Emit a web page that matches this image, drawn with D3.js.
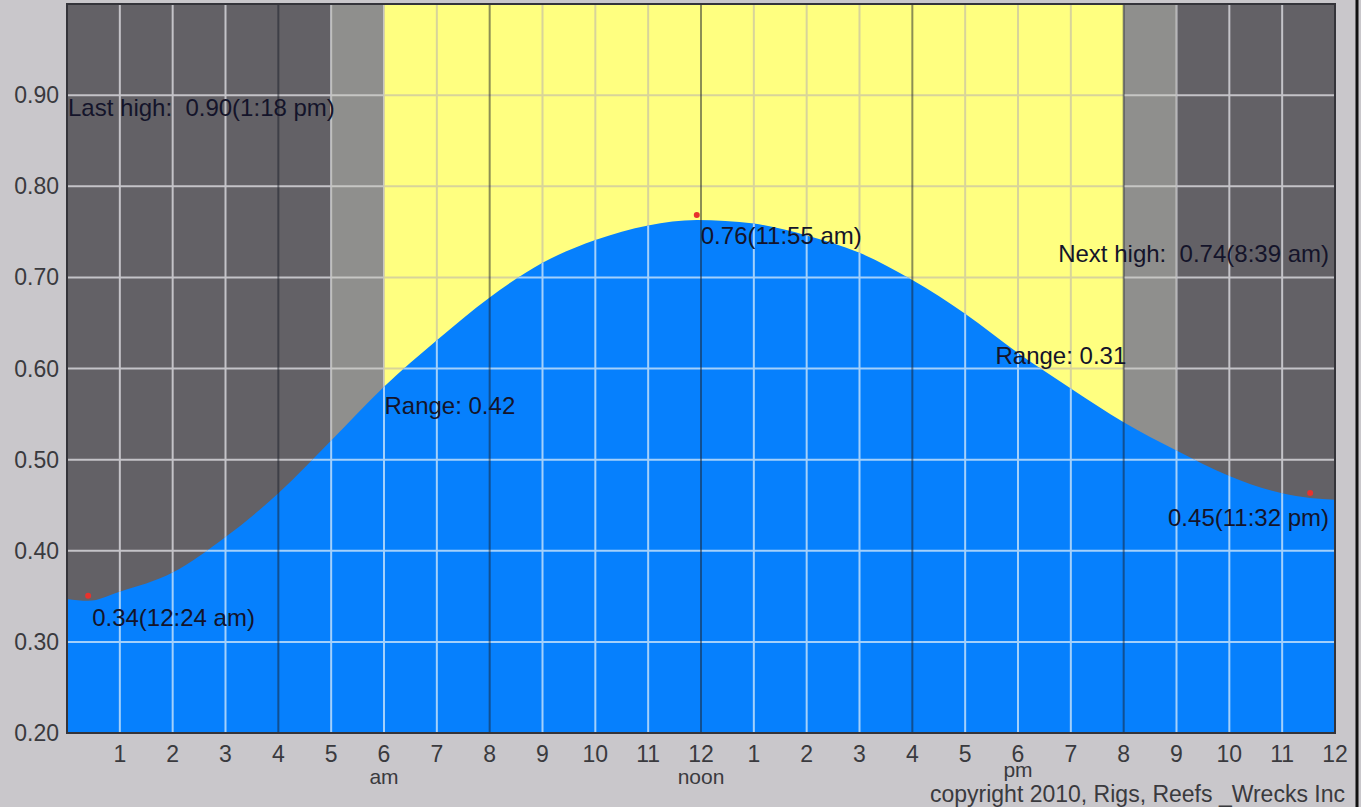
<!DOCTYPE html>
<html>
<head>
<meta charset="utf-8">
<script src="https://cdn.jsdelivr.net/npm/d3@7"></script>
<style>
  html, body { margin: 0; padding: 0; background: #c9c7cb; overflow: hidden; }
  svg { display: block; }
  text { font-family: "Liberation Sans", Arial, sans-serif; white-space: pre; }
</style>
</head>
<body>
<div id="tideChart"></div>
<script>
"use strict";

// tide level, hour 0 = midnight
const tideHours = [0, 0.4, 1, 2, 3, 4, 5, 6, 7, 8, 9, 10, 11, 11.92, 13, 14, 15, 16, 17, 18, 19, 20, 21, 22, 23, 23.53, 24];
const tideLevels = [0.347, 0.345, 0.355, 0.376, 0.415, 0.463, 0.521, 0.58, 0.631, 0.678, 0.716, 0.741, 0.757, 0.763, 0.759, 0.746, 0.727, 0.697, 0.66, 0.617, 0.578, 0.541, 0.51, 0.482, 0.463, 0.458, 0.456];

// lows / highs of the day
const extremeHours = [0.4, 11.92, 23.53];
const extremeLevels = [0.34, 0.76, 0.45];
const extremeLabels = ["0.34(12:24 am)", "0.76(11:55 am)", "0.45(11:32 pm)"];
const rangeLabels = ["Range: 0.42", "Range: 0.31"];

// highs outside the day
const otherHighLevels = [0.9, 0.74];
const otherHighLabels = ["Last high:  0.90(1:18 pm)", "Next high:  0.74(8:39 am)"];

// night / twilight / day
const bandStarts = [0, 5, 6, 20, 21];
const bandEnds = [5, 6, 20, 21, 24];
const bandKinds = ["night", "dusk", "day", "dusk", "night"];

const hourTicks = d3.range(1, 25);
const levelTicks = [0.2, 0.3, 0.4, 0.5, 0.6, 0.7, 0.8, 0.9];
const subLabelHours = [6, 12, 18];
const subLabels = ["am", "noon", "pm"];
const copyrightText = "copyright 2010, Rigs, Reefs _Wrecks Inc";

function drawTide() {
  const margin = { top: 4, left: 67 },
    width = 1268,
    height = 729;

  const bandFill = { night: "#636166", dusk: "#8f8f8d", day: "#ffff80" };
  const bandGrid = { night: "#c4c3c8", dusk: "#c6c6c4", day: "#d8d49a" };

  const x = d3.scaleLinear().domain([0, 24]).range([0, width]);
  const y = d3.scaleLinear().domain([0.2, 1.0]).range([height, 0]);

  const tide = tideHours.map((h, i) => [h, tideLevels[i]]);

  const svg = d3
    .select("#tideChart")
    .append("svg")
    .attr("width", 1361)
    .attr("height", 807);

  const defs = svg.append("defs");

  const g = svg
    .append("g")
    .attr("transform", "translate(" + margin.left + "," + margin.top + ")");

  // background bands, each with its own grid colour
  const gridHours = hourTicks.filter((h) => h % 4 !== 0 && h < 24);
  const gridLevels = levelTicks.slice(1).concat([1.0]);

  bandStarts.forEach((s, i) => {
    const kind = bandKinds[i];
    defs
      .append("clipPath")
      .attr("id", "band" + i)
      .append("rect")
      .attr("x", x(s))
      .attr("y", 0)
      .attr("width", x(bandEnds[i]) - x(s))
      .attr("height", height);

    const bg = g.append("g").attr("clip-path", "url(#band" + i + ")");
    bg.append("rect")
      .attr("x", x(s))
      .attr("y", 0)
      .attr("width", x(bandEnds[i]) - x(s))
      .attr("height", height)
      .style("fill", bandFill[kind]);
    drawGrid(bg, bandGrid[kind]);
  });

  function drawGrid(sel, color) {
    sel
      .selectAll(null)
      .data(gridHours)
      .enter()
      .append("line")
      .attr("x1", (d) => x(d))
      .attr("x2", (d) => x(d))
      .attr("y1", 0)
      .attr("y2", height)
      .style("stroke", color)
      .style("stroke-width", 2);
    sel
      .selectAll(null)
      .data(gridLevels)
      .enter()
      .append("line")
      .attr("x1", 0)
      .attr("x2", width)
      .attr("y1", (d) => y(d))
      .attr("y2", (d) => y(d))
      .style("stroke", color)
      .style("stroke-width", 2);
  }

  // tide area
  const area = d3
    .area()
    .x((d) => x(d[0]))
    .y0(height)
    .y1((d) => y(d[1]))
    .curve(d3.curveMonotoneX);

  g.append("path").datum(tide).attr("d", area).style("fill", "#0680fd");

  defs.append("clipPath").attr("id", "water").append("path").datum(tide).attr("d", area);

  const wg = g.append("g").attr("clip-path", "url(#water)");
  drawGrid(wg, "#a3d0fb");

  // darker lines every 4 hours
  g.selectAll(".quarter")
    .data([4, 8, 12, 16, 20])
    .enter()
    .append("line")
    .attr("class", "quarter")
    .attr("x1", (d) => x(d))
    .attr("x2", (d) => x(d))
    .attr("y1", 0)
    .attr("y2", height)
    .style("stroke", "rgba(25,30,40,0.5)")
    .style("stroke-width", 2);

  // frame
  g.append("rect")
    .attr("x", 0)
    .attr("y", 0)
    .attr("width", width)
    .attr("height", height)
    .style("fill", "none")
    .style("stroke", "#34343a")
    .style("stroke-width", 2);

  // y labels
  g.selectAll(".ylab")
    .data(levelTicks)
    .enter()
    .append("text")
    .attr("class", "ylab")
    .attr("x", -8)
    .attr("y", (d) => y(d))
    .attr("dy", "0.35em")
    .attr("text-anchor", "end")
    .style("font-size", "23px")
    .style("fill", "#3a3a3e")
    .text((d) => d3.format(".2f")(d));

  // x labels
  g.selectAll(".xlab")
    .data(hourTicks)
    .enter()
    .append("text")
    .attr("class", "xlab")
    .attr("x", (d) => x(d))
    .attr("y", height + 29)
    .attr("text-anchor", "middle")
    .style("font-size", "23px")
    .style("fill", "#3a3a3e")
    .text((d) => ((d - 1) % 12) + 1);

  g.selectAll(".sublab")
    .data(subLabelHours)
    .enter()
    .append("text")
    .attr("class", "sublab")
    .attr("x", (d) => x(d))
    .attr("y", (d, i) => height + (i === 2 ? 44 : 51))
    .attr("text-anchor", "middle")
    .style("font-size", "21px")
    .style("fill", "#3a3a3e")
    .text((d, i) => subLabels[i]);

  svg
    .append("text")
    .attr("x", 1345)
    .attr("y", 802)
    .attr("text-anchor", "end")
    .style("font-size", "23px")
    .style("fill", "#3a3a3e")
    .text(copyrightText);

  // window edge on the right
  svg
    .append("line")
    .attr("x1", 1357)
    .attr("x2", 1357)
    .attr("y1", 0)
    .attr("y2", 807)
    .style("stroke", "#111")
    .style("stroke-width", 3);

  const noteStyle = (sel) =>
    sel.style("font-size", "24px").style("fill", "#14142a");

  // markers + labels for lows/highs
  extremeHours.forEach((h, i) => {
    const curveLevel = tideLevels[tideHours.indexOf(h)];
    g.append("circle")
      .attr("cx", x(h))
      .attr("cy", y(curveLevel) - 5)
      .attr("r", 3)
      .style("fill", "#e8322c");

    const t = g
      .append("text")
      .attr("x", x(h) + 4)
      .attr("y", y(extremeLevels[i]) + 21)
      .call(noteStyle)
      .text(extremeLabels[i]);
    // keep inside the plot
    const w = t.node().getComputedTextLength();
    if (x(h) + 4 + w > width - 6) {
      t.attr("x", width - 6).attr("text-anchor", "end");
    }
  });

  // range labels between each low and high
  rangeLabels.forEach((r, i) => {
    const midHour = (extremeHours[i] + extremeHours[i + 1]) / 2;
    const midLevel = (extremeLevels[i] + extremeLevels[i + 1]) / 2;
    g.append("text")
      .attr("x", x(midHour) - 8)
      .attr("y", y(midLevel))
      .call(noteStyle)
      .text(r);
  });

  // last / next high
  otherHighLabels.forEach((lab, i) => {
    g.append("text")
      .attr("x", i === 0 ? 1 : width - 6)
      .attr("y", y(otherHighLevels[i]) + 21)
      .attr("text-anchor", i === 0 ? "start" : "end")
      .call(noteStyle)
      .text(lab);
  });
}

drawTide();
</script>
</body>
</html>
